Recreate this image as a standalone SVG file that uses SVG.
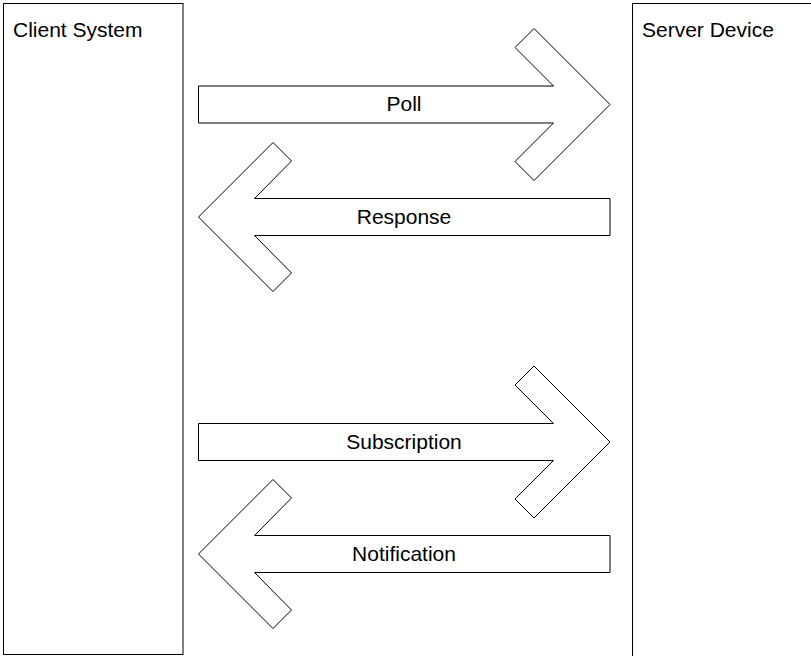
<svg xmlns="http://www.w3.org/2000/svg" width="811" height="656" viewBox="0 0 811 656">
<style>
.box{fill:#fff;stroke:#000;stroke-width:1}
.arrow{fill:#fff;stroke:#000;stroke-width:1;stroke-linejoin:miter}
.t{font-family:"Liberation Sans",Arial,sans-serif;font-size:21px;fill:#000}
.c{text-anchor:middle}
</style>
<rect width="811" height="656" fill="#fff"/>
<g id="client">
<rect class="box" x="3.5" y="3.5" width="179.5" height="651"/>
<text class="t" x="13" y="36.5">Client System</text>
</g>
<g id="server">
<rect class="box" x="632.5" y="3.5" width="200" height="700"/>
<text class="t" x="642" y="36.5">Server Device</text>
</g>
<g id="connectors">
<g id="poll">
<polygon class="arrow" points="198.5,86 553.5,86 515,47.5 534,28.5 610,104.5 534,180.5 515,161.5 553.5,123 198.5,123"/>
<text class="t c" x="404" y="111">Poll</text>
</g>
<g id="response">
<polygon class="arrow" points="610,198.5 254.5,198.5 291.5,161 273,142.5 198.5,217 273,291.5 291.5,273 254.5,235.5 610,235.5"/>
<text class="t c" x="404" y="223.5">Response</text>
</g>
<g id="subscription">
<polygon class="arrow" points="198.5,423.5 553.5,423.5 515,385 534,366 610,442 534,518 515,499 553.5,460.5 198.5,460.5"/>
<text class="t c" x="404" y="448.5">Subscription</text>
</g>
<g id="notification">
<polygon class="arrow" points="610,535.5 254.5,535.5 291.5,498 273,479.5 198.5,554 273,628.5 291.5,610 254.5,572.5 610,572.5"/>
<text class="t c" x="404" y="560.5">Notification</text>
</g>
</g>
</svg>
